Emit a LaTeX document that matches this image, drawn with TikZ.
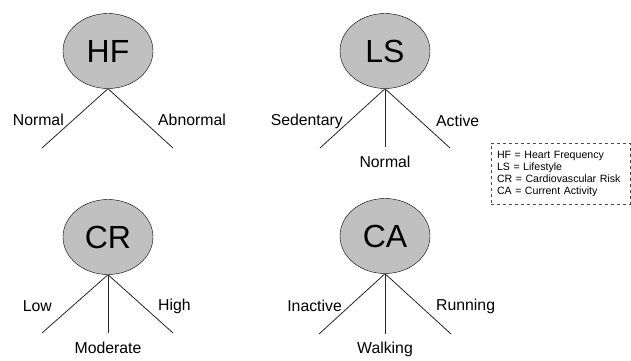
\documentclass[tikz,border=0pt]{standalone}
\usepackage{fontspec}
\setmainfont{Liberation Sans}
\usepackage{xcolor}
\usetikzlibrary{shapes.geometric,positioning}
\definecolor{varfill}{HTML}{C0C0C0}
\tikzset{
  var/.style={draw, ellipse, fill=varfill, minimum width=90pt, minimum height=75pt,
              inner sep=0pt, font=\fontsize{32}{36}\selectfont},
  branch/.style={draw, line width=0.8pt, black!85},
  lbl/.style={inner sep=0pt, font=\fontsize{15.8}{18}\selectfont},
  legend/.style={draw, dashed, line width=0.6pt, black!70, text=black, minimum width=139pt,
                 minimum height=61pt, text width=127pt, inner xsep=6pt, align=left,
                 font=\fontsize{10.6}{12}\selectfont}
}
\begin{document}
\begin{tikzpicture}[x=1pt, y=-1pt]
  \useasboundingbox (0,0) rectangle (631,360);

  % variables
  \node[var] (hf) at (108,51) {HF};
  \node[var] (ls) at (385,51) {LS};
  \node[var] (cr) at (108,237) {CR};
  \node[var] (ca) at (385,236) {CA};

  % branch ends
  \coordinate (hf-a) at (42,148);
  \coordinate (hf-b) at (173,148);
  \coordinate (ls-a) at (320,148);
  \coordinate (ls-b) at (385,147);
  \coordinate (ls-c) at (450,148);
  \coordinate (cr-a) at (42,333);
  \coordinate (cr-b) at (108,333);
  \coordinate (cr-c) at (173,333);
  \coordinate (ca-a) at (319,334);
  \coordinate (ca-b) at (385,334);
  \coordinate (ca-c) at (451,334);

  \foreach \v/\e in {hf/a,hf/b,ls/a,ls/b,ls/c,cr/a,cr/b,cr/c,ca/a,ca/b,ca/c}
    \draw[branch] (\v.south) -- (\v-\e);

  % states
  \node[lbl, anchor=east] (hf-an) at (64,120) {Normal};
  \node[lbl, anchor=west] (hf-bn) at (158,120) {Abnormal};
  \node[lbl, anchor=east] (ls-an) at (343,121) {Sedentary};
  \node[lbl, below=9pt of ls-b] (ls-bn) {Normal};
  \node[lbl, anchor=west] (ls-cn) at (436,121) {Active};
  \node[lbl, anchor=east] (cr-an) at (52,306) {Low};
  \node[lbl, below=9pt of cr-b] (cr-bn) {Moderate};
  \node[lbl, anchor=west] (cr-cn) at (158,306) {High};
  \node[lbl, anchor=east] (ca-an) at (342,306) {Inactive};
  \node[lbl, below=8pt of ca-b] (ca-bn) {Walking};
  \node[lbl, anchor=west] (ca-cn) at (436,306) {Running};

  % key
  \node[legend] (key) at (560.5,173.5) {HF = Heart Frequency\\LS = Lifestyle\\CR = Cardiovascular Risk\\CA = Current Activity};
\end{tikzpicture}
\end{document}
